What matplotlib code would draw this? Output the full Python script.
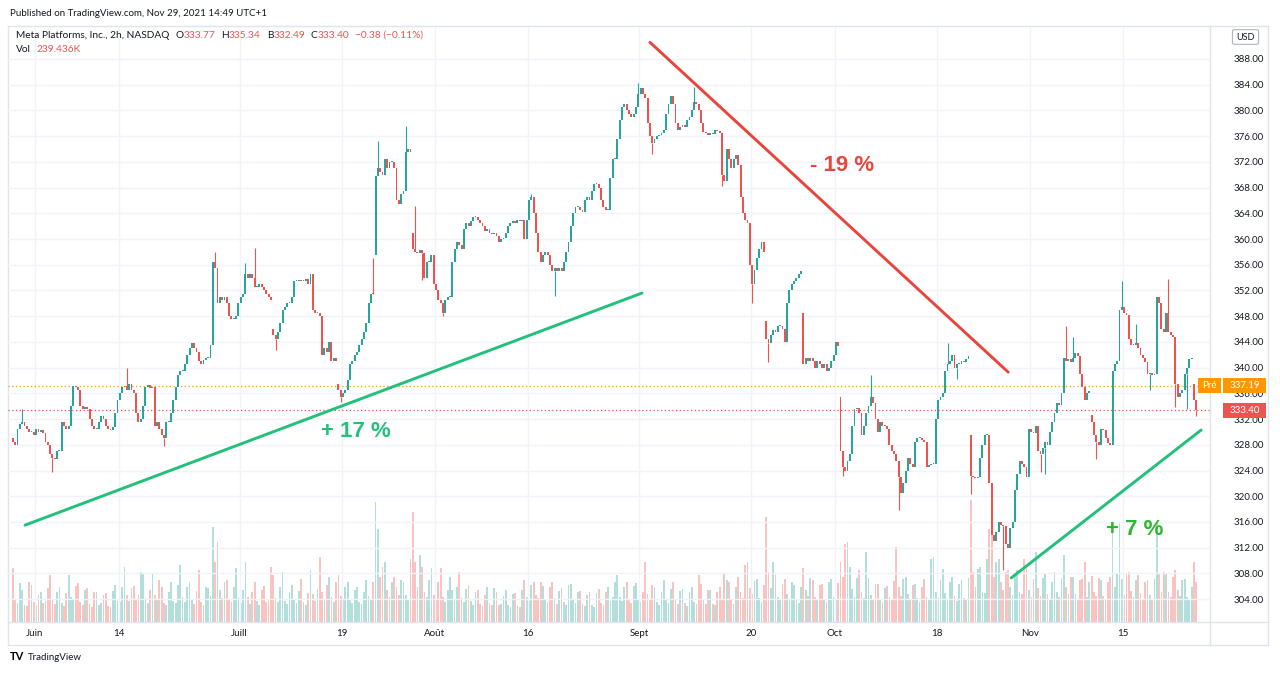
import numpy as np
import matplotlib.pyplot as plt
from matplotlib.patches import Rectangle, FancyBboxPatch
from matplotlib.lines import Line2D

plt.rcParams['font.family'] = ['Lato', 'DejaVu Sans']

# Meta Platforms 2h closes, four bars per session (27 May -> 26 Nov 2021, 26 Nov is a half day)
closes_by_day = [
    [328.5, 328.0, 330.5, 331.2], [331.5, 331.0, 330.5, 330.0], [330.0, 329.5, 330.5, 330.0],
    [330.3, 329.8, 328.5, 328.0], [326.5, 326.0, 325.8, 327.0], [327.0, 331.5, 331.0, 330.5],
    [331.0, 334.0, 337.2, 337.0], [336.5, 334.0, 333.5, 333.8], [333.5, 332.0, 331.0, 330.5],
    [330.5, 331.5, 332.5, 332.0], [331.0, 330.5, 330.3, 330.8], [333.0, 335.0, 336.0, 337.0],
    [337.2, 336.5, 337.5, 336.5], [336.0, 333.0, 331.5, 332.0], [334.0, 337.0, 337.3, 336.8],
    [337.0, 331.0, 331.5, 330.5], [329.5, 329.0, 331.5, 331.5], [333.0, 335.0, 337.0, 338.8],
    [339.5, 339.5, 340.5, 342.0], [343.0, 343.8, 343.0, 342.5], [341.0, 340.5, 341.2, 341.5],
    [341.5, 343.5, 356.5, 355.5], [350.0, 351.0, 350.5, 351.0], [350.0, 348.0, 347.5, 347.5],
    [348.0, 350.0, 351.0, 351.5], [354.5, 354.0, 354.5, 354.0], [352.5, 352.5, 353.0, 352.5],
    [352.0, 351.5, 351.0, 350.5], [345.0, 344.5, 345.5, 347.0], [349.0, 349.5, 350.0, 350.0],
    [351.0, 353.5, 353.5, 353.7], [353.5, 353.5, 353.8, 353.0], [354.5, 349.0, 348.5, 348.5],
    [348.0, 342.0, 343.0, 342.5], [344.0, 341.0, 341.5, 341.0], [336.5, 335.5, 336.0, 336.5],
    [338.0, 340.5, 341.0, 342.0], [342.5, 343.5, 344.5, 345.5], [347.0, 350.0, 351.5, 351.4],
    [369.8, 371.0, 370.5, 370.0], [372.5, 371.0, 372.0, 372.0], [371.0, 366.0, 365.5, 367.0],
    [367.5, 373.5, 374.0, 373.5], [358.5, 358.0, 357.8, 358.3], [357.8, 354.0, 356.5, 356.5],
    [357.5, 353.0, 352.0, 350.5], [350.0, 348.5, 350.5, 351.0], [351.0, 356.5, 358.5, 359.5],
    [359.0, 358.5, 361.5, 362.5], [362.0, 362.8, 363.5, 363.5], [363.0, 362.5, 362.0, 361.2],
    [361.5, 361.0, 360.8, 361.0], [360.5, 359.5, 360.0, 360.2], [361.0, 362.0, 362.5, 362.8],
    [362.5, 363.0, 362.8, 363.0], [360.0, 363.0, 366.0, 366.5], [364.0, 361.0, 358.0, 356.5],
    [357.5, 358.0, 357.5, 356.0], [355.0, 355.5, 355.0, 355.5], [355.0, 356.5, 358.0, 359.5],
    [362.0, 364.0, 365.0, 365.0], [364.5, 364.2, 366.0, 366.5], [366.0, 367.5, 368.5, 368.5],
    [368.0, 366.0, 365.0, 364.5], [364.5, 369.5, 372.5, 372.5], [375.5, 378.5, 380.5, 381.0],
    [380.0, 379.5, 379.0, 379.5], [380.5, 382.5, 383.5, 382.5], [382.0, 378.0, 376.0, 375.0],
    [375.5, 376.0, 376.2, 376.5], [377.0, 379.5, 381.0, 382.3], [381.0, 378.0, 377.0, 377.5],
    [377.8, 377.5, 378.5, 379.0], [380.0, 381.3, 381.0, 380.0], [378.0, 376.7, 376.5, 376.2],
    [376.5, 376.3, 377.0, 376.8], [376.5, 370.0, 369.0, 374.0], [372.5, 371.0, 372.5, 373.0],
    [371.5, 366.5, 364.0, 363.0], [362.5, 356.0, 353.0, 355.2], [357.0, 358.5, 359.5, 358.0],
    [344.5, 343.8, 345.0, 345.8], [345.5, 346.5, 346.5, 346.0], [344.0, 350.0, 352.0, 353.0],
    [353.5, 354.0, 354.6, 355.0], [340.5, 341.5, 341.0, 341.5], [341.0, 340.0, 341.0, 340.5],
    [340.0, 340.5, 339.5, 340.0], [341.0, 342.0, 344.0, 343.3], [327.0, 324.5, 324.0, 325.5],
    [326.5, 331.0, 333.5, 333.7], [333.0, 329.5, 331.0, 333.0], [334.0, 335.5, 334.5, 332.0],
    [330.0, 331.5, 331.0, 331.0], [330.5, 328.0, 327.0, 326.5], [325.5, 323.0, 320.5, 322.0],
    [324.0, 326.0, 325.0, 324.5], [328.5, 329.0, 329.0, 328.8], [328.5, 324.5, 324.8, 325.0],
    [325.0, 332.0, 335.0, 335.5], [336.0, 339.5, 340.5, 341.0], [342.0, 340.0, 340.5, 340.5],
    [341.0, 340.8, 341.3, 341.8], [323.2, 323.0, 322.8, 323.0], [326.0, 328.0, 329.5, 329.5],
    [322.0, 314.0, 313.0, 314.5], [316.0, 315.5, 315.3, 312.5], [312.0, 315.0, 316.0, 321.0],
    [323.5, 325.5, 325.0, 324.5], [323.0, 330.5, 330.0, 329.8], [331.0, 327.0, 326.5, 327.5],
    [328.5, 328.0, 330.0, 331.5], [333.0, 334.5, 334.2, 336.0], [341.5, 341.0, 341.3, 340.8],
    [341.5, 342.2, 341.8, 339.0], [337.0, 335.0, 336.0, 336.3], [331.5, 329.6, 328.5, 328.0],
    [330.5, 330.3, 329.0, 328.3], [328.0, 339.5, 340.5, 341.0], [349.0, 349.5, 348.5, 348.2],
    [344.5, 343.5, 343.5, 343.8], [343.0, 342.0, 341.5, 340.8], [339.0, 339.2, 338.8, 339.0],
    [351.0, 350.0, 346.0, 345.5], [348.5, 345.5, 345.0, 344.8], [337.5, 335.5, 336.0, 336.5],
    [339.0, 340.0, 341.3, 341.5], [335.0, 333.4],
]
first_open = 329.0
# sessions that opened on a gap: {session index: first open}
gap_opens = {28: 346.0, 35: 337.5, 39: 357.5, 43: 361.0, 81: 347.3, 85: 348.5, 89: 335.5,
             103: 329.6, 116: 332.7, 127: 337.5}
# visible wick extremes: {bar index: price}
wick_highs = {4: 333.6, 49: 339.9, 87: 358.0, 100: 356.3, 104: 358.6, 157: 375.3, 169: 377.6,
              173: 365.2, 223: 367.0, 269: 384.3, 293: 383.6, 369: 338.8, 402: 343.8,
              453: 346.5, 456: 344.8, 477: 353.4, 497: 353.8, 483: 346.8}
wick_lows = {17: 323.8, 65: 327.8, 113: 342.8, 141: 334.7, 155: 357.0, 176: 353.7, 185: 348.0,
             233: 351.1, 275: 373.3, 305: 368.2, 318: 350.0, 325: 340.8, 357: 323.2, 381: 317.8,
             406: 338.2, 412: 320.4, 426: 308.6, 442: 323.8, 444: 323.5, 466: 325.8, 489: 336.5,
             500: 333.9, 505: 333.5, 509: 332.5}

# volume per 2h bar, millions of shares
volume_by_day = [
    [10.8, 4.5, 3.8, 7.8], [6.5, 3.5, 3.2, 8.0], [7.5, 4.0, 3.5, 5.5], [6.0, 3.8, 4.2, 6.8],
    [9.4, 4.5, 3.6, 6.0], [7.0, 3.9, 3.3, 5.8], [9.4, 5.0, 4.4, 7.2], [7.8, 4.0, 3.5, 6.5],
    [6.8, 3.6, 3.0, 6.0], [6.0, 3.4, 3.8, 5.5], [5.8, 3.2, 3.0, 6.2], [7.5, 4.2, 4.0, 7.0],
    [11.0, 5.5, 4.2, 6.8], [7.2, 4.6, 5.5, 10.0], [9.6, 4.8, 3.9, 6.5], [9.7, 5.5, 4.5, 8.5],
    [7.0, 3.8, 3.5, 6.0], [8.0, 4.2, 3.8, 7.5], [11.5, 5.0, 4.0, 7.0], [8.0, 4.4, 3.6, 6.2],
    [10.4, 4.0, 3.5, 7.0], [6.8, 5.2, 19.0, 12.0], [16.0, 6.5, 4.8, 8.0], [8.5, 4.5, 4.0, 7.0],
    [10.8, 4.8, 3.8, 6.5], [12.0, 5.0, 3.6, 6.0], [8.0, 4.2, 3.5, 6.4], [7.2, 4.0, 4.6, 11.0],
    [9.5, 4.8, 4.0, 7.0], [10.0, 4.2, 3.6, 6.0], [7.5, 4.4, 3.8, 6.2], [8.6, 4.0, 3.4, 5.8],
    [10.4, 5.6, 4.2, 6.6], [13.0, 6.0, 4.5, 7.5], [9.0, 5.0, 4.0, 8.0], [9.4, 5.2, 4.4, 7.0],
    [8.0, 4.6, 3.8, 6.5], [7.0, 4.0, 3.6, 6.0], [8.5, 5.2, 4.4, 8.0], [24.0, 18.6, 9.0, 11.0],
    [12.0, 6.5, 5.0, 8.0], [9.0, 7.0, 5.5, 8.5], [8.0, 5.5, 4.6, 12.7], [22.0, 12.0, 7.0, 13.4],
    [11.0, 6.0, 5.0, 8.5], [10.8, 5.5, 4.6, 8.0], [10.8, 5.0, 4.0, 6.5], [9.0, 6.5, 4.4, 7.0],
    [10.0, 5.0, 4.0, 6.6], [7.5, 4.2, 3.5, 6.0], [6.5, 3.6, 3.2, 5.5], [7.0, 3.8, 3.4, 6.8],
    [6.0, 3.5, 3.6, 5.2], [6.4, 3.4, 3.0, 5.6], [5.8, 3.2, 3.0, 6.4], [8.4, 5.0, 4.2, 7.5],
    [8.0, 5.5, 4.8, 8.0], [7.2, 4.4, 4.0, 7.0], [8.0, 4.8, 3.6, 6.2], [6.8, 4.0, 3.5, 7.5],
    [7.6, 4.6, 3.8, 6.0], [6.2, 3.6, 3.2, 5.4], [6.0, 3.4, 3.0, 5.8], [6.6, 3.8, 3.5, 6.0],
    [7.0, 4.2, 5.0, 8.0], [9.5, 5.0, 4.2, 7.0], [8.0, 4.5, 3.8, 7.2], [7.8, 4.6, 4.0, 6.0],
    [12.0, 5.6, 4.4, 7.4], [7.0, 4.0, 3.4, 6.0], [8.4, 4.6, 3.8, 6.6], [8.0, 4.4, 3.6, 6.2],
    [6.6, 3.8, 3.2, 6.0], [7.0, 4.0, 3.6, 9.4], [7.6, 4.4, 3.6, 6.4], [6.4, 3.6, 3.4, 6.0],
    [7.0, 4.6, 9.7, 8.4], [8.0, 4.4, 3.6, 7.0], [9.0, 6.0, 4.8, 11.5], [12.0, 6.8, 5.6, 8.2],
    [8.6, 4.8, 4.0, 7.4], [21.0, 10.0, 6.8, 12.0], [9.5, 5.0, 4.4, 7.6], [8.6, 5.6, 4.6, 8.0],
    [7.4, 4.4, 3.8, 7.0], [10.8, 6.4, 5.2, 8.8], [8.4, 5.0, 4.4, 7.4], [7.6, 4.6, 4.0, 8.0],
    [8.6, 5.0, 4.4, 7.8], [12.0, 9.0, 15.6, 16.0], [11.0, 6.6, 5.0, 8.8], [10.4, 6.0, 4.8, 14.0],
    [8.8, 5.4, 4.4, 7.6], [7.6, 4.6, 4.0, 6.8], [7.2, 5.0, 4.6, 8.2], [15.0, 7.0, 5.2, 8.6],
    [9.0, 5.6, 4.6, 7.4], [7.6, 4.8, 4.0, 7.0], [8.6, 5.0, 4.6, 12.7], [13.0, 6.0, 4.8, 8.4],
    [10.6, 5.8, 4.6, 8.0], [9.0, 5.2, 4.2, 7.6], [8.4, 4.8, 4.4, 8.8], [24.5, 10.0, 7.0, 10.6],
    [11.0, 6.0, 5.8, 12.6], [18.6, 24.0, 9.0, 12.0], [12.6, 8.0, 6.4, 10.0], [10.4, 7.0, 5.4, 9.4],
    [10.4, 6.0, 5.6, 12.7], [11.0, 6.4, 5.0, 8.6], [14.0, 6.8, 5.2, 8.8], [9.6, 5.6, 4.6, 8.0],
    [10.0, 6.0, 5.0, 8.8], [13.4, 7.0, 5.6, 9.0], [9.0, 5.6, 4.4, 8.4], [8.6, 12.0, 5.0, 8.0],
    [9.2, 6.0, 5.2, 8.8], [8.4, 5.2, 4.4, 8.0], [9.0, 20.0, 7.0, 9.6], [20.0, 8.6, 5.4, 9.6],
    [10.0, 6.2, 5.0, 8.4], [9.4, 5.8, 4.6, 8.0], [8.4, 5.4, 4.4, 8.6], [20.0, 9.6, 6.0, 10.0],
    [9.8, 6.0, 5.0, 9.0], [10.4, 6.4, 5.2, 8.4], [8.6, 5.0, 4.4, 7.0], [12.0, 8.0],
]

# session index of each time-axis label
tick_days = [2, 11, 24, 35, 45, 55, 67, 79, 88, 99, 109, 119]
tick_labels = ['Juin', '14', 'Juill', '19', 'Août', '16', 'Sept', '20', 'Oct', '18', 'Nov', '15']
price_ticks = list(range(304, 389, 4))
last_price = 333.40
pre_price = 337.19

# drawn trend lines: (bar position, price) anchors
up_line_1 = [(5.2, 315.5), (270.6, 351.6)]
down_line = [(274.0, 390.6), (428.1, 339.3)]
up_line_2 = [(429.4, 307.3), (511.1, 330.3)]
notes = [('- 19 %', 356.6, 371.5, '#e8453c'),
         ('+ 17 %', 147.6, 330.0, '#22c07a'),
         ('+ 7 %', 482.6, 314.8, '#2cb82c')]

GREEN, RED = '#26a69a', '#ef5350'
W, H = 1280, 673

c = np.array([v for day in closes_by_day for v in day])
o = np.r_[first_open, c[:-1]]
start = 0
for d, day in enumerate(closes_by_day):
    if d in gap_opens:
        o[start] = gap_opens[d]
    start += len(day)
vol = np.array([v for day in volume_by_day for v in day])
pos = np.arange(len(c))
up = c >= o
col = np.where(up, GREEN, RED)

fig = plt.figure(figsize=(W / 100, H / 100), dpi=100)
fig.patch.set_facecolor('white')


def fx(x):
    return x / W


def fy(y):
    return 1 - y / H


rect = [fx(8), fy(622), (1210 - 8) / W, (622 - 28) / H]
vax = fig.add_axes(rect, zorder=1)
ax = fig.add_axes(rect, zorder=2)
ax.patch.set_alpha(0)
xlim = (-2.1, 514.9)

vax.set_xlim(*xlim)
vax.set_ylim(0, 118.8)
vax.axis('off')
vax.bar(pos, vol, width=0.75, color=col, alpha=0.35, linewidth=0)

ax.set_xlim(*xlim)
ax.set_ylim(300.44, 392.82)
for s in ax.spines.values():
    s.set_visible(False)

for p in price_ticks:
    ax.axhline(p, color='#f0f3fa', lw=1, zorder=0)
xt = [4 * d + 1.5 for d in tick_days]
for x in xt:
    ax.axvline(x, color='#f0f3fa', lw=1, zorder=0)

lo = np.minimum(o, c)
hi = np.maximum(o, c)
h = np.maximum(hi - lo, 0.15)
for i, p in wick_highs.items():
    ax.vlines(i, hi[i], p, color=col[i], lw=0.8, zorder=3)
for i, p in wick_lows.items():
    ax.vlines(i, p, lo[i], color=col[i], lw=0.8, zorder=3)
ax.bar(pos, h, bottom=lo, width=0.8, color=col, linewidth=0, zorder=3)

ax.axhline(pre_price, color='#ff9800', lw=0.9, ls=(0, (1, 2)), zorder=2)
ax.axhline(last_price, color=RED, lw=0.9, ls=(0, (1, 2)), zorder=2)

ax.set_yticks(price_ticks)
ax.set_yticklabels(['%.2f' % p for p in price_ticks])
ax.tick_params(axis='y', left=False, labelleft=False, right=True, labelright=True,
               length=0, pad=17, labelsize=7, labelcolor='#131722')
ax.set_xticks(xt)
ax.set_xticklabels(tick_labels)
ax.tick_params(axis='x', length=0, pad=5, labelsize=7, labelcolor='#131722')

for line, color in [(up_line_1, '#22c07a'), (down_line, '#e8453c'), (up_line_2, '#22c07a')]:
    xs, ys = zip(*line)
    ax.plot(xs, ys, color=color, lw=2.1, solid_capstyle='round', zorder=5)
for txt, x, y, color in notes:
    ax.text(x, y, txt, color=color, fontsize=16, fontweight='bold', ha='center', va='center',
            family=['Liberation Sans', 'DejaVu Sans'], zorder=6)

# frame lines
fig.add_artist(Rectangle((fx(8), fy(645)), (1268 - 8) / W, (645 - 26) / H, transform=fig.transFigure,
                         fill=False, edgecolor='#e0e3eb', lw=1))
fig.add_artist(Line2D([fx(1210), fx(1210)], [fy(26), fy(645)], color='#e0e3eb', lw=1))
fig.add_artist(Line2D([fx(8), fx(1268)], [fy(622), fy(622)], color='#e0e3eb', lw=1))


# price labels on the scale
def price_box(x0, x1, price, text, color):
    y = ax.transData.transform((0, price))[1]
    yc = y / H
    fig.add_artist(Rectangle((fx(x0), yc - 7.5 / H), (x1 - x0) / W, 15 / H, transform=fig.transFigure,
                             facecolor=color, edgecolor='none', zorder=10))
    fig.text(fx((x0 + x1) / 2), yc, text, color='white', fontsize=7, ha='center', va='center', zorder=11)


price_box(1198, 1221, pre_price, 'Pré', '#ff9800')
price_box(1223, 1266, pre_price, '%.2f' % pre_price, '#ff9800')
price_box(1223, 1266, last_price, '%.2f' % last_price, RED)

fig.add_artist(FancyBboxPatch((fx(1235), fy(43)), 21 / W, 12 / H, boxstyle='round,pad=0.002',
                              transform=fig.transFigure, facecolor='white', edgecolor='#b2b5be', lw=0.8))
fig.text(fx(1245.5), fy(37), 'USD', fontsize=6.5, color='#131722', ha='center', va='center')

fig.text(fx(10), fy(13), 'Published on TradingView.com, Nov 29, 2021 14:49 UTC+1', fontsize=7,
         color='#131722', va='center')

renderer = fig.canvas.get_renderer()


def text_row(pieces, x, y, size):
    for s, color, gap in pieces:
        t = fig.text(fx(x), fy(y), s, color=color, fontsize=size, va='center', ha='left')
        x += t.get_window_extent(renderer).width + gap


DARK = '#131722'
text_row([('Meta Platforms, Inc., 2h, NASDAQ', DARK, 6), ('O', DARK, 0), ('333.77', RED, 6),
          ('H', DARK, 0), ('335.34', RED, 6), ('B', DARK, 0), ('332.49', RED, 6),
          ('C', DARK, 0), ('333.40', RED, 6), ('\u22120.38 (\u22120.11%)', RED, 0)], 16, 35, 7.3)
text_row([('Vol', DARK, 6), ('239.436K', RED, 0)], 16, 49, 7.3)

fig.text(fx(10), fy(657), 'TV', fontsize=8, fontweight='bold', color='black', va='center')
fig.text(fx(28), fy(657), 'TradingView', fontsize=7, color='#131722', va='center')

fig.savefig('out.png', dpi=100, facecolor='white')
